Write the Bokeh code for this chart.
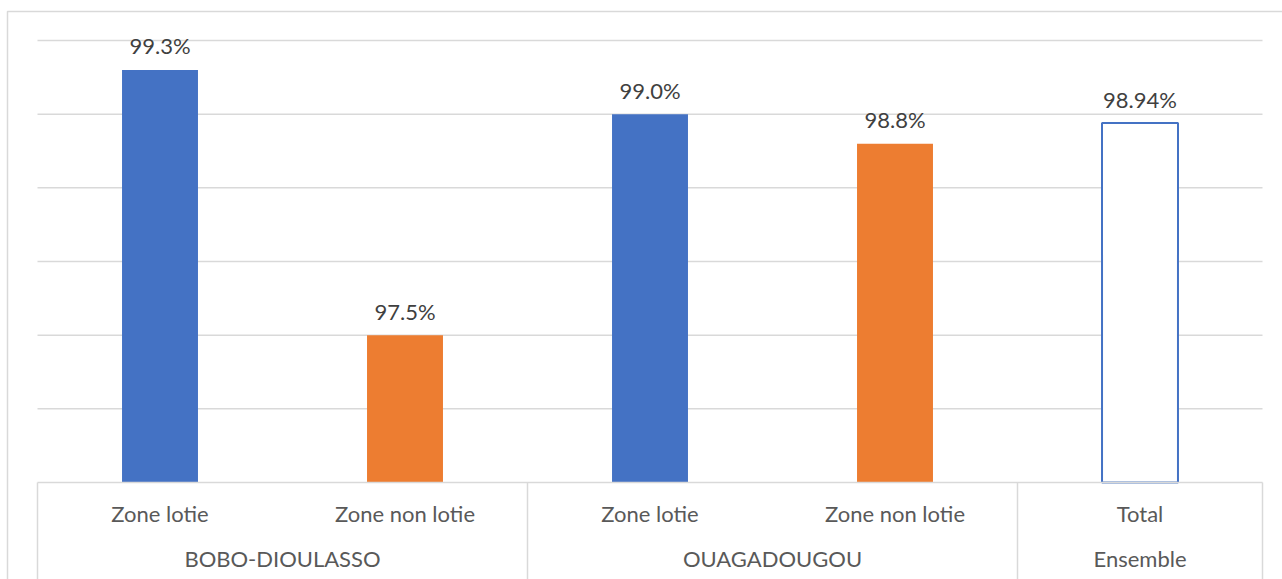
from bokeh.plotting import figure
from bokeh.models import Range1d
from bokeh.core.properties import value
from bokeh.embed import file_html
from bokeh.resources import INLINE

# --- data ---
categories = ["Zone lotie", "Zone non lotie", "Zone lotie", "Zone non lotie", "Total"]
groups = ["BOBO-DIOULASSO", "OUAGADOUGOU", "Ensemble"]
group_sizes = [2, 2, 1]
values = [99.3, 97.5, 99.0, 98.8, 98.94]
value_labels = ["99.3%", "97.5%", "99.0%", "98.8%", "98.94%"]
grid_values = [97.0, 97.5, 98.0, 98.5, 99.0, 99.5]
y_min, y_max = 96.5, 99.5

# --- styles ---
BLUE = "#4472C4"
ORANGE = "#ED7D31"
GRID = "#D9D9D9"
fills = [BLUE, ORANGE, BLUE, ORANGE, "white"]
outlines = [BLUE, ORANGE, BLUE, ORANGE, BLUE]
outline_widths = [0, 0, 0, 0, 2]
FONT = value("Lato")

# --- canvas geometry (pixels) ---
W, H = 1282, 579
plot_left, plot_right = 37, 1262
plot_top, plot_bottom = 40, 482
border_left, border_top = 7, 11

n = len(categories)
x_per_px = n / (plot_right - plot_left)
y_per_px = (y_max - y_min) / (plot_bottom - plot_top)
x_start = -plot_left * x_per_px
x_end = n + (W - plot_right) * x_per_px
y_end = y_max + plot_top * y_per_px
y_start = y_min - (H - plot_bottom) * y_per_px

p = figure(width=W, height=H, output_backend="svg", toolbar_location=None,
           x_axis_location=None, y_axis_location=None,
           x_range=Range1d(x_start, x_end), y_range=Range1d(y_start, y_end),
           min_border=0, background_fill_color="white", border_fill_color="white")
p.outline_line_color = None
p.xgrid.visible = False
p.ygrid.visible = False

xs = [i + 0.5 for i in range(n)]

# horizontal gridlines
p.segment(x0=[0] * len(grid_values), x1=[n] * len(grid_values),
          y0=grid_values, y1=grid_values, line_color=GRID, line_width=1.5)

# bars
p.vbar(x=xs, top=values, bottom=y_min, width=0.31, fill_color=fills,
       line_color=outlines, line_width=outline_widths)

# value labels
p.text(x=xs, y=values, text=value_labels, text_align="center",
       text_baseline="middle", y_offset=-24, text_font=FONT,
       text_font_size="22px", text_color="#404040")

# category axis: baseline and group separators
bx_left = x_start + border_left * x_per_px
by_top = y_end - border_top * y_per_px
p.segment(x0=[0], x1=[n], y0=[y_min], y1=[y_min], line_color=GRID, line_width=1.5)
bounds = [0]
for s in group_sizes:
    bounds.append(bounds[-1] + s)
p.segment(x0=bounds, x1=bounds, y0=[y_min] * len(bounds), y1=[y_start] * len(bounds),
          line_color=GRID, line_width=1.5)

p.text(x=xs, y=[y_min] * n, text=categories, text_align="center",
       text_baseline="middle", y_offset=31, text_font=FONT,
       text_font_size="22px", text_color="#595959")
group_x = [(bounds[i] + bounds[i + 1]) / 2 for i in range(len(groups))]
p.text(x=group_x, y=[y_min] * len(groups), text=groups, text_align="center",
       text_baseline="middle", y_offset=76, text_font=FONT,
       text_font_size="22px", text_color="#595959")

# chart area border (left and top edges)
p.line(x=[bx_left, bx_left, x_end], y=[y_start, by_top, by_top],
       line_color=GRID, line_width=1.5)

open("out.html", "w").write(file_html(p, INLINE))
